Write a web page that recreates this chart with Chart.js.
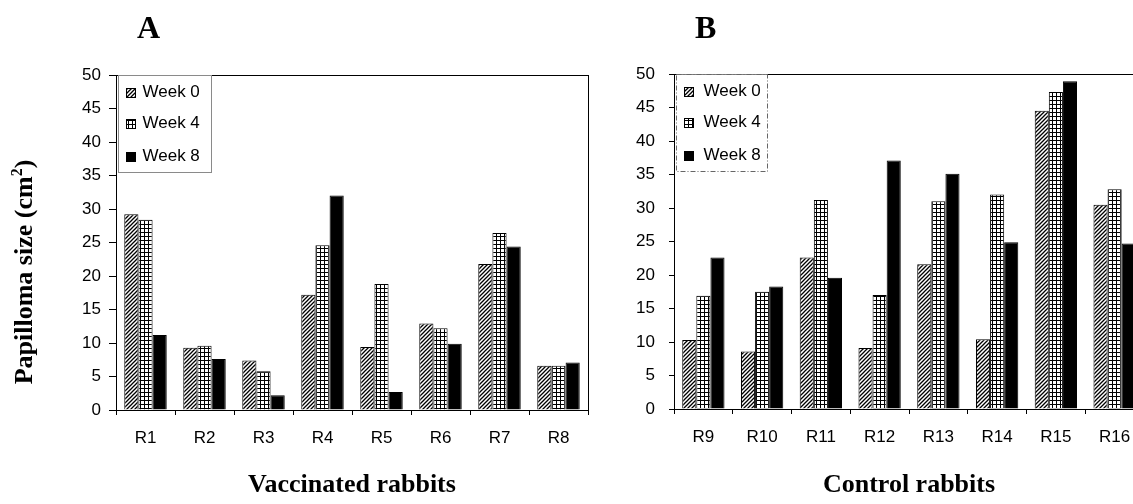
<!DOCTYPE html>
<html>
<head>
<meta charset="utf-8">
<script src="https://cdn.jsdelivr.net/npm/chart.js@4.4.1/dist/chart.umd.min.js"></script>
<style>
	html, body { margin: 0; padding: 0; background: #fff; overflow: hidden; }
	#wrap { position: relative; width: 1133px; height: 504px; overflow: hidden; }
	.panel { position: absolute; top: 0; width: 600px; height: 504px; }
	#panelA { left: 0; }
	#panelB { left: 600px; }
</style>
</head>
<body>
<div id="wrap">
	<div class="panel" id="panelA"><canvas id="chartA" width="600" height="504"></canvas></div>
	<div class="panel" id="panelB"><canvas id="chartB" width="600" height="504"></canvas></div>
</div>
<script>
// valores (cm2)
const seriesNames = ['Week 0', 'Week 4', 'Week 8'];

const categoriesA = ['R1', 'R2', 'R3', 'R4', 'R5', 'R6', 'R7', 'R8'];
const week0A = [29.2, 9.3, 7.4, 17.2, 9.4, 12.9, 21.8, 6.6];
const week4A = [28.4, 9.6, 5.8, 24.6, 18.8, 12.2, 26.4, 6.6];
const week8A = [11.2, 7.6, 2.2, 32.0, 2.7, 9.9, 24.4, 7.1];

const categoriesB = ['R9', 'R10', 'R11', 'R12', 'R13', 'R14', 'R15', 'R16'];
const week0B = [10.3, 8.6, 22.6, 9.1, 21.6, 10.4, 44.5, 30.5];
const week4B = [16.9, 17.5, 31.2, 17.0, 31.0, 32.0, 47.3, 32.8];
const week8B = [22.6, 18.3, 19.6, 37.1, 35.1, 24.9, 48.9, 24.7];

const yMin = 0;
const yMax = 50;
const yStep = 5;

Chart.defaults.font.family = 'Liberation Sans';
Chart.defaults.font.size = 17;
Chart.defaults.color = '#000';

function makeHatch(ctx) {
	const c = document.createElement('canvas');
	c.width = 4;
	c.height = 4;
	const g = c.getContext('2d');
	g.fillStyle = '#fff';
	g.fillRect(0, 0, 4, 4);
	g.strokeStyle = '#000';
	g.lineWidth = 1.3;
	g.beginPath();
	g.moveTo(0, 4); g.lineTo(4, 0);
	g.moveTo(-1, 1); g.lineTo(1, -1);
	g.moveTo(3, 5); g.lineTo(5, 3);
	g.stroke();
	return ctx.createPattern(c, 'repeat');
}

function makeGrid(ctx) {
	const c = document.createElement('canvas');
	c.width = 4;
	c.height = 4;
	const g = c.getContext('2d');
	g.fillStyle = '#fff';
	g.fillRect(0, 0, 4, 4);
	g.fillStyle = '#000';
	g.fillRect(0, 0, 4, 1);
	g.fillRect(0, 0, 1, 4);
	return ctx.createPattern(c, 'repeat');
}

// moldura, legenda, letra do painel e título do eixo y
const panelDecor = {
	id: 'panelDecor',
	afterDraw(chart, args, opts) {
		const ctx = chart.ctx;
		const a = chart.chartArea;
		ctx.save();

		ctx.strokeStyle = '#000';
		ctx.lineWidth = 1;
		ctx.strokeRect(Math.round(a.left) + 0.5, Math.round(a.top) + 0.5, a.right - a.left, a.bottom - a.top);

		// legenda
		const lx = Math.round(a.left) + 2.5;
		const ly = Math.round(a.top) + 0.5;
		ctx.fillStyle = '#fff';
		ctx.fillRect(lx, ly, opts.legendWidth, 97);
		ctx.strokeStyle = opts.legendColor;
		ctx.setLineDash(opts.legendDash);
		ctx.strokeRect(lx, ly, opts.legendWidth, 97);
		ctx.setLineDash([]);

		const rows = [16.5, 48, 81];
		chart.data.datasets.forEach((ds, i) => {
			const cy = ly + rows[i];
			ctx.fillStyle = ds.backgroundColor;
			ctx.fillRect(lx + 8, Math.round(cy - 4.5), 9, 9);
			ctx.strokeStyle = '#000';
			ctx.strokeRect(lx + 8, Math.round(cy - 4.5) + 0.5, 9, 9);
			ctx.fillStyle = '#000';
			ctx.font = '17px "Liberation Sans"';
			ctx.textBaseline = 'middle';
			ctx.textAlign = 'left';
			ctx.fillText(ds.label, lx + opts.legendText, cy);
		});

		// letra do painel
		ctx.font = 'bold 32px "Liberation Serif"';
		ctx.textBaseline = 'alphabetic';
		ctx.fillText(opts.letter, a.left + 21, 38);

		if (opts.yTitle) {
			ctx.translate(32, 272);
			ctx.rotate(-Math.PI / 2);
			const main = 'Papilloma size (cm';
			ctx.font = 'bold 26px "Liberation Serif"';
			const w1 = ctx.measureText(main).width;
			const w3 = ctx.measureText(')').width;
			ctx.font = 'bold 16px "Liberation Serif"';
			const w2 = ctx.measureText('2').width;
			let x = -(w1 + w2 + w3) / 2;
			ctx.font = 'bold 26px "Liberation Serif"';
			ctx.fillText(main, x, 0);
			x += w1;
			ctx.font = 'bold 16px "Liberation Serif"';
			ctx.fillText('2', x, -10);
			x += w2;
			ctx.font = 'bold 26px "Liberation Serif"';
			ctx.fillText(')', x, 0);
		}
		ctx.restore();
	}
};

function buildPanel(canvasId, labels, values, g) {
	const ctx = document.getElementById(canvasId).getContext('2d');
	const fills = [makeHatch(ctx), makeGrid(ctx), '#000'];

	return new Chart(ctx, {
		type: 'bar',
		data: {
			labels: labels,
			datasets: values.map((v, i) => ({
				label: seriesNames[i],
				data: v,
				backgroundColor: fills[i],
				borderColor: '#000',
				borderWidth: 1,
				barPercentage: 1.0,
				categoryPercentage: 0.72
			}))
		},
		plugins: [panelDecor],
		options: {
			responsive: false,
			animation: false,
			layout: {
				padding: { top: g.top, right: g.right, left: 0, bottom: 0 }
			},
			scales: {
				x: {
					grid: {
						drawOnChartArea: false,
						drawTicks: true,
						tickLength: 5,
						color: '#000',
						offset: true
					},
					border: { color: '#000', width: 1 },
					ticks: { padding: 13, color: '#000' },
					title: {
						display: true,
						text: g.xTitle,
						color: '#000',
						font: { family: 'Liberation Serif', size: 26, weight: 'bold' },
						padding: { top: 0, bottom: 3 }
					},
					afterFit(scale) { scale.height = g.xHeight; }
				},
				y: {
					min: yMin,
					max: yMax,
					grid: {
						drawOnChartArea: false,
						drawTicks: true,
						tickLength: g.tickLen,
						color: '#000'
					},
					border: { color: '#000', width: 1 },
					ticks: { stepSize: yStep, padding: g.tickPad, color: '#000' },
					afterFit(scale) { scale.width = g.yWidth; }
				}
			},
			plugins: {
				legend: { display: false },
				tooltip: { enabled: false },
				panelDecor: {
					letter: g.letter,
					yTitle: g.yTitle,
					legendWidth: g.legendWidth,
					legendText: g.legendText,
					legendColor: g.legendColor,
					legendDash: g.legendDash
				}
			}
		}
	});
}

buildPanel('chartA', categoriesA, [week0A, week4A, week8A], {
	top: 75, right: 12, yWidth: 116, xHeight: 94,
	tickLen: 7, tickPad: 8,
	letter: 'A', yTitle: true, xTitle: 'Vaccinated rabbits',
	legendWidth: 93, legendText: 24, legendColor: '#8a8a8a', legendDash: []
});

buildPanel('chartB', categoriesB, [week0B, week4B, week8B], {
	top: 74, right: 56, yWidth: 74, xHeight: 95,
	tickLen: 5, tickPad: 14,
	letter: 'B', yTitle: false, xTitle: 'Control rabbits',
	legendWidth: 91, legendText: 27, legendColor: '#666', legendDash: [5, 2, 1, 2]
});
</script>
</body>
</html>
